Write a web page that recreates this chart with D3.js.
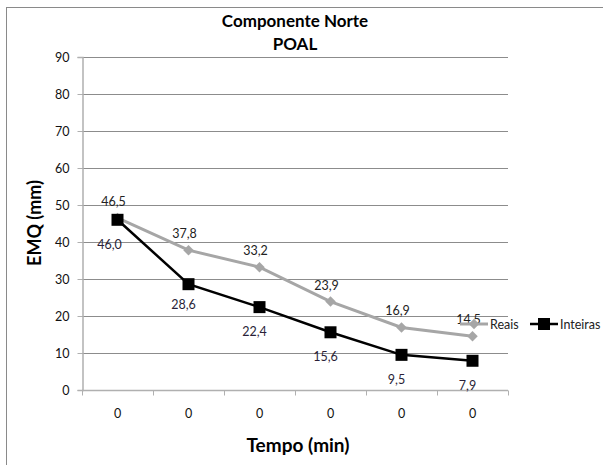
<!DOCTYPE html>
<html>
<head>
<meta charset="utf-8">
<script src="https://cdn.jsdelivr.net/npm/d3@7"></script>
<style>
  body { margin: 0; background: #fff; }
  text { font-family: Lato, "Open Sans", sans-serif; }
</style>
</head>
<body>
<div id="chart"></div>
<script>
// data
const categories = ["0", "0", "0", "0", "0", "0"];
const reais = [46.5, 37.8, 33.2, 23.9, 16.9, 14.5];
const inteiras = [46.0, 28.6, 22.4, 15.6, 9.5, 7.9];
const yTicks = [0, 10, 20, 30, 40, 50, 60, 70, 80, 90];

const margin = {top: 57, left: 82},
    width = 508 - 82,
    height = 390 - 57;

const svg = d3.select("#chart")
  .append("svg")
    .attr("width", 603)
    .attr("height", 465);

// outer frame
svg.append("rect")
    .attr("x", 6.5).attr("y", 7.5)
    .attr("width", 800).attr("height", 800)
    .attr("fill", "none")
    .attr("stroke", "#8a8a8a");

const g = svg.append("g")
    .attr("transform", "translate(" + margin.left + "," + margin.top + ")");

const idx = categories.map((d, i) => i);
const x = d3.scaleBand()
  .domain(idx)
  .range([0, width]);

const y = d3.scaleLinear()
  .domain([0, 90])
  .range([height, 0]);

// gridlines
g.append("g")
  .selectAll("line")
  .data(yTicks.filter(d => d > 0))
  .enter().append("line")
    .attr("x1", 0).attr("x2", width)
    .attr("y1", d => y(d) + 0.5).attr("y2", d => y(d) + 0.5)
    .attr("stroke", "#8c8c8c");

// Y axis
const yAxis = g.append("g")
    .attr("transform", "translate(0.5,0)")
    .call(d3.axisLeft(y).tickValues(yTicks).tickSize(5).tickPadding(8));
yAxis.select(".domain").attr("stroke", "#b0b0b0").attr("stroke-width", 1.5);
yAxis.selectAll(".tick line").attr("stroke", "#b0b0b0");
yAxis.selectAll("text").style("font-size", "12.5px").attr("fill", "#111")
    .style("font-family", "Lato, 'Open Sans', sans-serif");

// X axis, ticks on band edges
const xAxis = g.append("g")
    .attr("transform", "translate(0," + (height + 0.5) + ")");
xAxis.append("line")
    .attr("x1", 0).attr("x2", width)
    .attr("stroke", "#b0b0b0").attr("stroke-width", 1.5);
xAxis.selectAll(".edge")
  .data(idx.concat([idx.length]))
  .enter().append("line")
    .attr("class", "edge")
    .attr("x1", d => d * x.bandwidth() + 0.5)
    .attr("x2", d => d * x.bandwidth() + 0.5)
    .attr("y1", 0).attr("y2", 5)
    .attr("stroke", "#b0b0b0");
xAxis.selectAll(".lab")
  .data(idx)
  .enter().append("text")
    .attr("class", "lab")
    .attr("x", d => x(d) + x.bandwidth() / 2)
    .attr("y", 27)
    .attr("text-anchor", "middle")
    .style("font-size", "12.5px")
    .attr("fill", "#111")
    .text(d => categories[d]);

const cx = i => x(i) + x.bandwidth() / 2;

// Reais line
g.append("path")
    .datum(reais)
    .attr("fill", "none")
    .attr("stroke", "#a6a6a6")
    .attr("stroke-width", 3)
    .attr("d", d3.line().x((d, i) => cx(i)).y(d => y(d)));

g.selectAll(".dia")
  .data(reais)
  .enter().append("path")
    .attr("class", "dia")
    .attr("transform", (d, i) => "translate(" + cx(i) + "," + y(d) + ")")
    .attr("d", d3.symbol().type(d3.symbolDiamond2).size(70))
    .attr("fill", "#a6a6a6");

// Inteiras line
g.append("path")
    .datum(inteiras)
    .attr("fill", "none")
    .attr("stroke", "#000")
    .attr("stroke-width", 2.5)
    .attr("d", d3.line().x((d, i) => cx(i)).y(d => y(d)));

g.selectAll(".sq")
  .data(inteiras)
  .enter().append("rect")
    .attr("class", "sq")
    .attr("x", (d, i) => cx(i) - 6)
    .attr("y", d => y(d) - 6)
    .attr("width", 12).attr("height", 12)
    .attr("fill", "#000");

// value labels
g.selectAll(".lr")
  .data(reais)
  .enter().append("text")
    .attr("class", "lr")
    .attr("x", (d, i) => cx(i) - 4)
    .attr("y", d => y(d) - 12)
    .attr("text-anchor", "middle")
    .style("font-size", "12.5px")
    .attr("fill", "#222")
    .text(d => d.toFixed(1).replace(".", ","));

g.selectAll(".li")
  .data(inteiras)
  .enter().append("text")
    .attr("class", "li")
    .attr("x", (d, i) => cx(i) - (i == 0 ? 8 : 5))
    .attr("y", (d, i) => y(d) + (i == 1 ? 25 : 29))
    .attr("text-anchor", "middle")
    .style("font-size", "12.5px")
    .attr("fill", "#2a1f38")
    .text(d => d.toFixed(1).replace(".", ","));

// titles
svg.append("text")
    .attr("x", 295).attr("y", 27)
    .attr("text-anchor", "middle")
    .style("font-size", "17px").style("font-weight", "bold")
    .text("Componente Norte");
svg.append("text")
    .attr("x", 295).attr("y", 50)
    .attr("text-anchor", "middle")
    .style("font-size", "17px").style("font-weight", "bold")
    .text("POAL");

svg.append("text")
    .attr("x", 298).attr("y", 452)
    .attr("text-anchor", "middle")
    .style("font-size", "19px").style("font-weight", "bold")
    .text("Tempo (min)");

svg.append("text")
    .attr("transform", "translate(41,223) rotate(-90)")
    .attr("text-anchor", "middle")
    .style("font-size", "18px").style("font-weight", "bold")
    .text("EMQ (mm)");

// legend
const leg = svg.append("g").attr("transform", "translate(0,324)");
leg.append("line").attr("x1", 460).attr("x2", 488)
    .attr("stroke", "#a6a6a6").attr("stroke-width", 3);
leg.append("path").attr("transform", "translate(474,0)")
    .attr("d", d3.symbol().type(d3.symbolDiamond2).size(70))
    .attr("fill", "#a6a6a6");
leg.append("text").attr("x", 490).attr("y", 4.5)
    .style("font-size", "12.5px").attr("fill", "#222").text("Reais");
leg.append("line").attr("x1", 530).attr("x2", 558)
    .attr("stroke", "#000").attr("stroke-width", 2.5);
leg.append("rect").attr("x", 538).attr("y", -6)
    .attr("width", 12).attr("height", 12).attr("fill", "#000");
leg.append("text").attr("x", 560).attr("y", 4.5)
    .style("font-size", "12.5px").attr("fill", "#222").text("Inteiras");
</script>
</body>
</html>
